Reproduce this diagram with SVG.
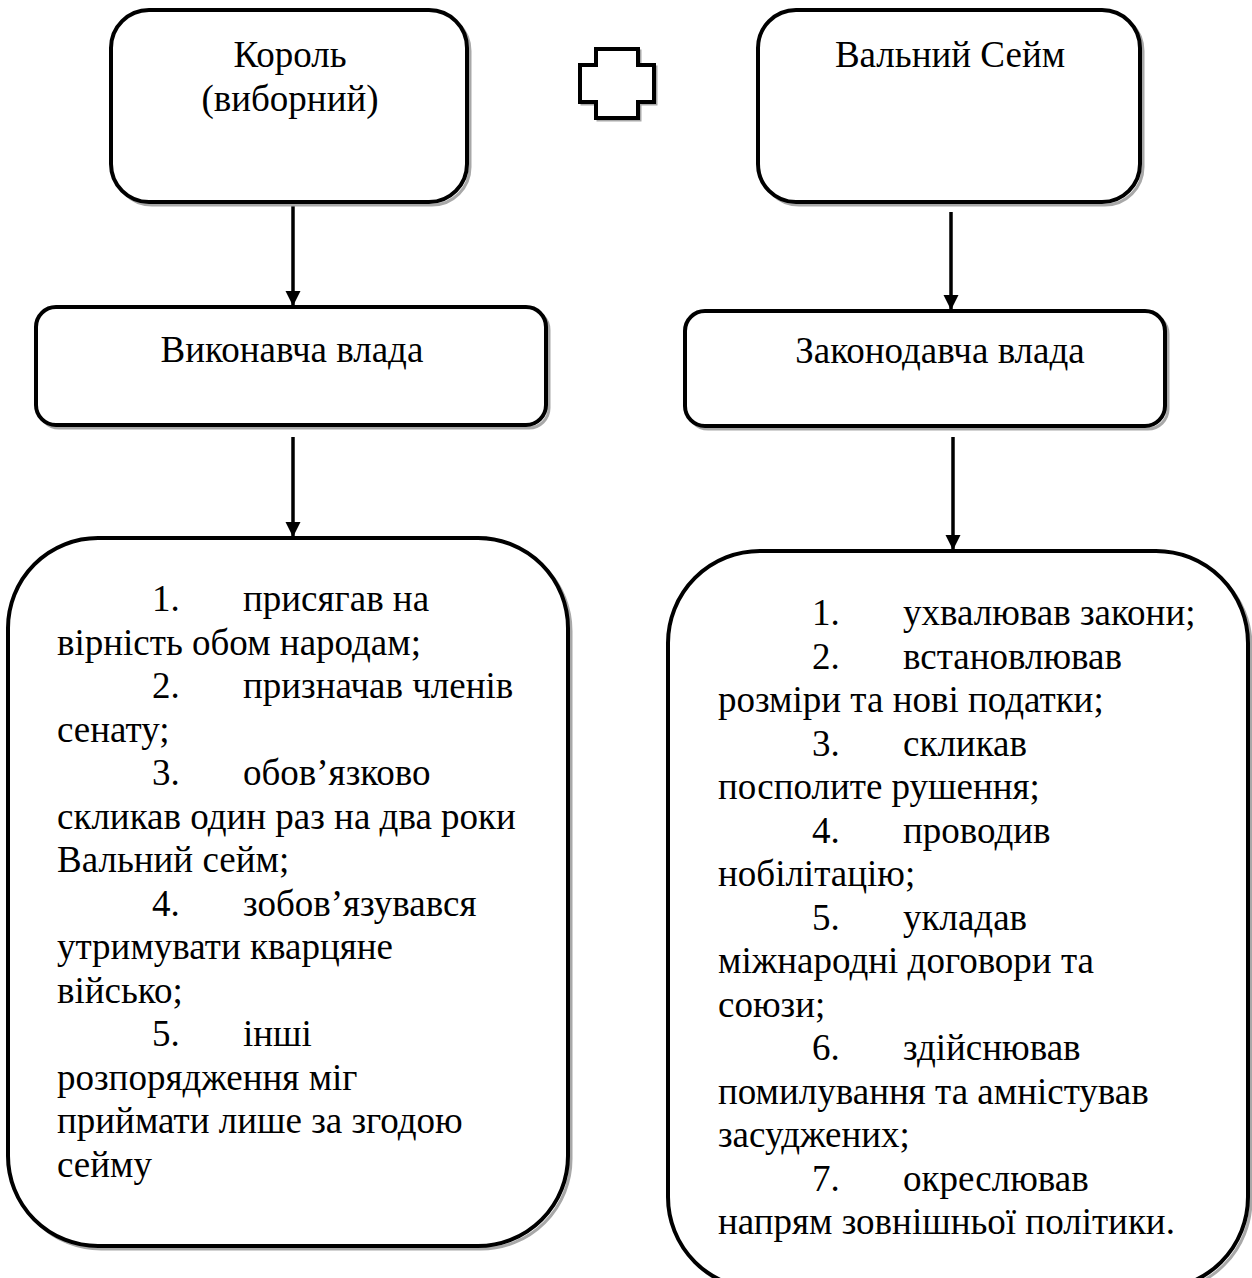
<svg xmlns="http://www.w3.org/2000/svg" width="1252" height="1278" viewBox="0 0 1252 1278">
<style>
.box{fill:#fff;stroke:#000;stroke-width:4}
.sh{fill:none;stroke:#a8a8a8;stroke-width:3}
.ln{stroke:#000;stroke-width:3.5;fill:none}
text{font-family:"Liberation Serif","Times New Roman",serif;font-size:37px;fill:#000}
.c{text-anchor:middle}
</style>
<defs>
<marker id="ah" viewBox="0 0 10 10" refX="10" refY="5" markerWidth="4.4" markerHeight="4.4" orient="auto" markerUnits="strokeWidth">
<path d="M0,0 L10,5 L0,10 z" fill="#000"/>
</marker>
</defs>
<rect width="1252" height="1278" fill="#fff"/>

<g id="connectors">
<line class="ln" x1="293" y1="205" x2="293" y2="306" marker-end="url(#ah)"/>
<line class="ln" x1="951" y1="212" x2="951" y2="310" marker-end="url(#ah)"/>
<line class="ln" x1="293" y1="437" x2="293" y2="537" marker-end="url(#ah)"/>
<line class="ln" x1="953" y1="437" x2="953" y2="550" marker-end="url(#ah)"/>
</g>

<g id="king">
<rect class="sh" x="114" y="13" width="356" height="192" rx="38"/>
<rect class="box" x="111" y="10" width="356" height="192" rx="38"/>
<text class="c" x="290" y="67">Король</text>
<text class="c" x="290" y="111">(виборний)</text>
</g>

<g id="plus">
<path class="sh" d="M598,51 H640 V67 H656 V104 H640 V120 H598 V104 H582 V67 H598 Z"/>
<path d="M596,49 H638 V65 H654 V102 H638 V118 H596 V102 H580 V65 H596 Z" fill="#fff" stroke="#000" stroke-width="4"/>
</g>

<g id="sejm">
<rect class="sh" x="761" y="13" width="382" height="192" rx="38"/>
<rect class="box" x="758" y="10" width="382" height="192" rx="38"/>
<text class="c" x="950" y="67">Вальний Сейм</text>
</g>

<g id="executive">
<rect class="sh" x="39" y="310" width="510" height="118" rx="20"/>
<rect class="box" x="36" y="307" width="510" height="118" rx="20"/>
<text class="c" x="292" y="362">Виконавча влада</text>
</g>

<g id="legislative">
<rect class="sh" x="688" y="314" width="480" height="115" rx="20"/>
<rect class="box" x="685" y="311" width="480" height="115" rx="20"/>
<text class="c" x="940" y="363">Законодавча влада</text>
</g>

<g id="king-powers">
<rect class="sh" x="11" y="541" width="560" height="708" rx="90"/>
<rect class="box" x="8" y="538" width="560" height="708" rx="90"/>
<text x="152" y="611">1.</text><text x="243" y="611">присягав на</text>
<text x="57" y="654.5">вірність обом народам;</text>
<text x="152" y="698">2.</text><text x="243" y="698">призначав членів</text>
<text x="57" y="741.5">сенату;</text>
<text x="152" y="785">3.</text><text x="243" y="785">обов’язково</text>
<text x="57" y="828.5">скликав один раз на два роки</text>
<text x="57" y="872">Вальний сейм;</text>
<text x="152" y="915.5">4.</text><text x="243" y="915.5">зобов’язувався</text>
<text x="57" y="959">утримувати кварцяне</text>
<text x="57" y="1002.5">військо;</text>
<text x="152" y="1046">5.</text><text x="243" y="1046">інші</text>
<text x="57" y="1089.5">розпорядження міг</text>
<text x="57" y="1133">приймати лише за згодою</text>
<text x="57" y="1176.5">сейму</text>
</g>

<g id="sejm-powers">
<rect class="sh" x="671" y="554" width="580" height="738" rx="92"/>
<rect class="box" x="668" y="551" width="580" height="738" rx="92"/>
<text x="812" y="625">1.</text><text x="903" y="625">ухвалював закони;</text>
<text x="812" y="668.5">2.</text><text x="903" y="668.5">встановлював</text>
<text x="718" y="712">розміри та нові податки;</text>
<text x="812" y="755.5">3.</text><text x="903" y="755.5">скликав</text>
<text x="718" y="799">посполите рушення;</text>
<text x="812" y="842.5">4.</text><text x="903" y="842.5">проводив</text>
<text x="718" y="886">нобілітацію;</text>
<text x="812" y="929.5">5.</text><text x="903" y="929.5">укладав</text>
<text x="718" y="973">міжнародні договори та</text>
<text x="718" y="1016.5">союзи;</text>
<text x="812" y="1060">6.</text><text x="903" y="1060">здійснював</text>
<text x="718" y="1103.5">помилування та амністував</text>
<text x="718" y="1147">засуджених;</text>
<text x="812" y="1190.5">7.</text><text x="903" y="1190.5">окреслював</text>
<text x="718" y="1234">напрям зовнішньої політики.</text>
</g>
</svg>
